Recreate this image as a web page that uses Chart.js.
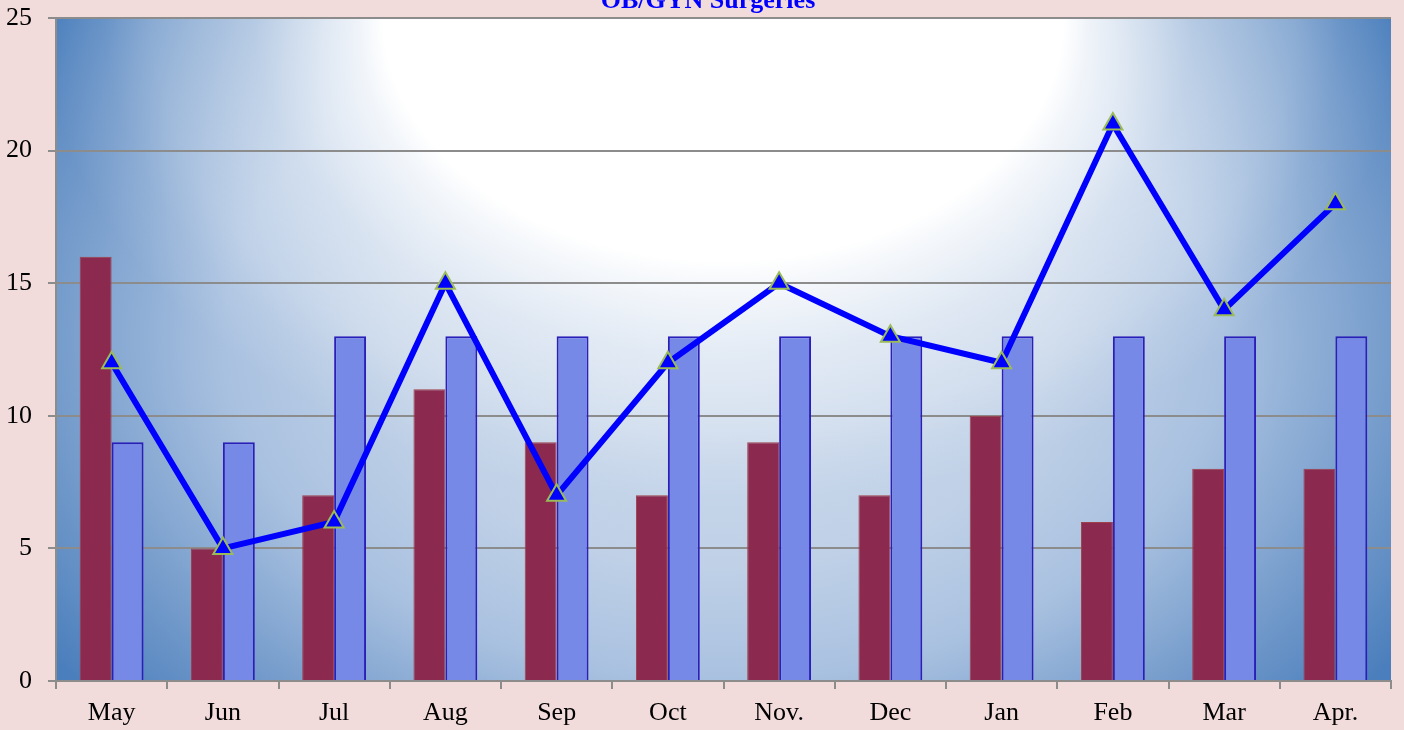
<!DOCTYPE html>
<html>
<head>
<meta charset="utf-8">
<script src="https://cdn.jsdelivr.net/npm/chart.js@4.4.1/dist/chart.umd.min.js"></script>
<style>
  html, body { margin: 0; padding: 0; background: #f2dcdb; }
  #wrap { width: 1404px; height: 730px; }
</style>
</head>
<body>
<div id="wrap"><canvas id="chart" width="1404" height="730"></canvas></div>
<script>
// OB/GYN surgeries per month
const months = ['May', 'Jun', 'Jul', 'Aug', 'Sep', 'Oct', 'Nov.', 'Dec', 'Jan', 'Feb', 'Mar', 'Apr.'];
const redBars = [16, 5, 7, 11, 9, 7, 9, 7, 10, 6, 8, 8];
const blueBars = [9, 9, 13, 13, 13, 13, 13, 13, 13, 13, 13, 13];
const lineValues = [12, 5, 6, 15, 7, 12, 15, 13, 12, 21, 14, 18];
const yTicks = [0, 5, 10, 15, 20, 25];

function ellipseFill(ctx, cx, cy, rx, ry, stops) {
  ctx.save();
  ctx.translate(cx, cy);
  ctx.scale(1, ry / rx);
  const g = ctx.createRadialGradient(0, 0, 0, 0, 0, rx);
  stops.forEach(s => g.addColorStop(s[0], s[1]));
  ctx.fillStyle = g;
  ctx.fillRect(-3000, -3000, 6000, 6000);
  ctx.restore();
}

const backdrop = {
  id: 'backdrop',
  beforeDraw(chart) {
    const { ctx, chartArea: a } = chart;
    ctx.save();
    ctx.fillStyle = '#f2dcdb';
    ctx.fillRect(0, 0, chart.width, chart.height);
    ctx.beginPath();
    ctx.rect(a.left, a.top, a.right - a.left, a.bottom - a.top);
    ctx.clip();
    const cx = (a.left + a.right) / 2;
    // blue body, darker towards the corners
    ellipseFill(ctx, cx, a.top + 322, 820, 557, [
      [0, '#cddbed'], [0.4, '#c0d1e7'], [0.61, '#a9c1e0'],
      [0.82, '#749bcb'], [1, '#4a7ebc']
    ]);
    // white glow at the top centre
    ellipseFill(ctx, cx, a.top, 680, 486, [
      [0, 'rgba(255,255,255,1)'], [0.5, 'rgba(255,255,255,1)'],
      [0.54, 'rgba(255,255,255,0.85)'], [0.69, 'rgba(255,255,255,0.46)'],
      [0.84, 'rgba(255,255,255,0.26)'], [0.91, 'rgba(255,255,255,0.11)'],
      [1, 'rgba(255,255,255,0)']
    ]);
    ctx.restore();
  },
  afterDraw(chart) {
    const { ctx } = chart;
    ctx.save();
    ctx.font = 'bold 26px "Liberation Serif"';
    ctx.fillStyle = '#0000ff';
    ctx.textAlign = 'center';
    ctx.textBaseline = 'alphabetic';
    ctx.fillText('OB/GYN Surgeries', 708, 8);
    ctx.restore();
  }
};

new Chart(document.getElementById('chart'), {
  data: {
    labels: months,
    datasets: [
      {
        type: 'line',
        data: lineValues,
        borderColor: '#0000ff',
        borderWidth: 6,
        pointStyle: 'triangle',
        pointRadius: 11,
        pointBackgroundColor: '#0000ff',
        pointBorderColor: '#9bbb59',
        pointBorderWidth: 2,
        tension: 0,
        order: 0
      },
      {
        type: 'bar',
        data: redBars,
        backgroundColor: '#8b2a4e',
        borderColor: '#a0404a',
        borderWidth: 1,
        order: 1
      },
      {
        type: 'bar',
        data: blueBars,
        backgroundColor: '#7789e6',
        borderColor: '#2a1fb8',
        borderWidth: 2,
        order: 2
      }
    ]
  },
  options: {
    responsive: false,
    animation: false,
    devicePixelRatio: 1,
    layout: { padding: { top: 18, right: 10, left: 0, bottom: 0 } },
    datasets: { bar: { barPercentage: 1, categoryPercentage: 0.574 } },
    plugins: { legend: { display: false }, tooltip: { enabled: false } },
    scales: {
      x: {
        offset: true,
        grid: {
          display: true,
          offset: true,
          drawOnChartArea: false,
          drawTicks: true,
          tickLength: 8,
          color: '#8c8c8c',
          lineWidth: 2
        },
        border: { display: true, color: '#8c8c8c', width: 2 },
        ticks: {
          color: '#000',
          font: { family: 'Liberation Serif', size: 26 },
          padding: 9,
          maxRotation: 0
        },
        afterFit(s) {
          s.height = 49;
          s.paddingLeft = 0;
          s.paddingRight = 0;
        }
      },
      y: {
        min: 0,
        max: 25,
        afterBuildTicks(s) { s.ticks = yTicks.map(v => ({ value: v })); },
        grid: {
          color: '#8c8c8c',
          lineWidth: 2,
          tickLength: 8
        },
        border: { display: true, color: '#8c8c8c', width: 2 },
        ticks: {
          color: '#000',
          font: { family: 'Liberation Serif', size: 26 },
          padding: 16
        },
        afterFit(s) {
          s.width = 56;
          s.paddingTop = 0;
          s.paddingBottom = 0;
        }
      }
    }
  },
  plugins: [backdrop]
});
</script>
</body>
</html>
